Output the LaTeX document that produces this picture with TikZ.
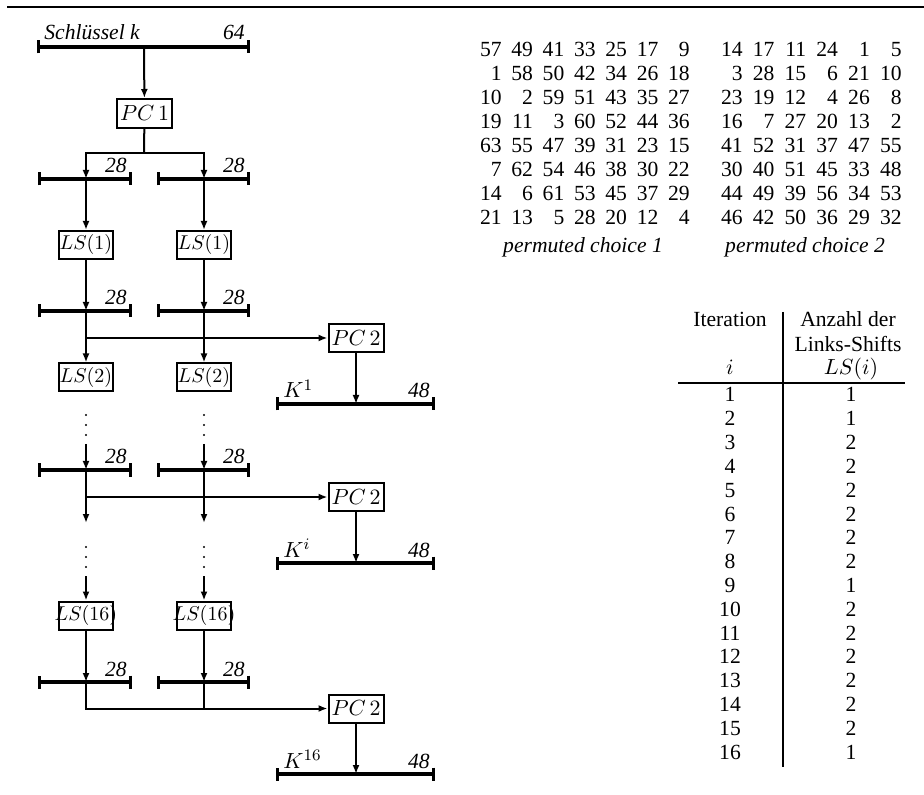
\documentclass[tikz,border=0pt]{standalone}
\usepackage{fontspec}
\setmainfont{Liberation Serif}
\usetikzlibrary{arrows.meta}

\begin{document}
\fontsize{10.8}{13}\selectfont
\begin{tikzpicture}[x=0.5pt,y=-0.5pt,
  box/.style={draw,line width=1pt,minimum width=27pt,minimum height=14pt,inner sep=0.3pt},
  lsbox/.style={box,font=\fontsize{9.6}{11}\selectfont},
  bus/.style={line width=1.7pt,{Bar[width=6.5pt]}-{Bar[width=6.5pt]}},
  wire/.style={line width=1pt},
  arr/.style={wire,-{Latex[length=4.5pt,width=3.5pt]}},
  num/.style={anchor=base east,inner sep=0pt},
  lbl/.style={anchor=base east,inner sep=0pt,font=\itshape}]
  \useasboundingbox (0,0) rectangle (924,795);
  \draw[line width=1.1pt] (7,7) -- (924,7); % rule at top

  % the buses: name / left end / right end / tap / height
  \foreach \n/\xa/\xb/\xt/\y in {key/37/250/144/47, aL/38/132/86/179, aR/157/250/204/179,
      bL/38/132/86/311, bR/157/250/204/311, cL/38/132/86/470, cR/157/250/204/470,
      dL/38/132/86/682, dR/157/250/204/682, k1/276/435/356/404, ki/276/435/356/563,
      k16/276/435/356/774} {
    \coordinate (\n-w) at (\xa,\y);
    \coordinate (\n-e) at (\xb,\y);
    \coordinate (\n) at (\xt,\y);
    \draw[bus] (\n-w) -- (\n-e);
  }
  \foreach \n in {aL,aR,bL,bR,cL,cR,dL,dR} { % widths of the halves
    \node[lbl] (w\n) at ([shift={(-5,-6)}]\n-e) {28};
  }
  \foreach \n in {k1,ki,k16} {
    \node[lbl] (w\n) at ([shift={(-5,-6)}]\n-e) {48};
  }
  \node[lbl] (wkey) at ([shift={(-5,-7)}]key-e) {64};
  \node[lbl,anchor=base west] (tkey) at (44,40) {Schlüssel k};
  \node[anchor=base west,inner sep=0pt] (tk1) at (283,398) {$K^1$};
  \node[anchor=base west,inner sep=0pt] (tki) at (283,557) {$K^i$};
  \node[anchor=base west,inner sep=0pt] (tk16) at (283,768) {$K^{16}$};

  % boxes
  \node[box,minimum width=27.5pt,minimum height=14.5pt] (pc1) at (144.5,113.5) {$PC\,1$};
  \foreach \s/\x in {L/86,R/204} {
    \node[lsbox] (ls1\s) at (\x,245) {$LS(1)$};
    \node[lsbox] (ls2\s) at (\x,377.5) {$LS(2)$};
    \node[lsbox,inner sep=0pt,text width=27pt,align=center] (ls16\s) at (\x,615.5)
      {\makebox[27pt]{$LS(16)$}};
  }
  \node[box,minimum width=27.5pt] (pc2a) at (356,338) {$PC\,2$};
  \node[box,minimum width=27.5pt] (pc2b) at (356,497) {$PC\,2$};
  \node[box,minimum width=27.5pt] (pc2c) at (356,708.5) {$PC\,2$};

  % connectors
  \coordinate (split) at (144,153);
  \draw[arr] (key) -- (pc1);
  \draw[wire] (pc1) -- (split);
  \draw[arr] (split) -| (aL);
  \draw[arr] (split) -| (aR);
  \foreach \s/\x in {L/86,R/204} {
    \draw[arr] (a\s) -- (ls1\s);
    \draw[arr] (ls1\s) -- (b\s);
    \draw[arr] (b\s) -- (ls2\s);
    \coordinate (cin\s) at (\x,444);
    \coordinate (cout\s) at (\x,523);
    \coordinate (din\s) at (\x,576);
    \draw[arr] (cin\s) -- (c\s);
    \draw[arr] (c\s) -- (cout\s);
    \draw[arr] (din\s) -- (ls16\s);
    \draw[arr] (ls16\s) -- (d\s);
    \foreach \y in {415,425,435,547,557,567} { % vertical dots
      \fill (\x,\y) circle (0.6pt);
    }
  }
  \coordinate (jb) at (86,338);
  \coordinate (jc) at (86,497);
  \draw[arr] (jb) -- (pc2a.west);
  \draw[arr] (jc) -- (pc2b.west);
  \draw[arr] (dL) |- (pc2c.west);
  \draw[wire] (dR) -- (dR |- pc2c.west);
  \draw[arr] (pc2a) -- (k1);
  \draw[arr] (pc2b) -- (ki);
  \draw[arr] (pc2c) -- (k16);

  % permuted choice 1
  \foreach \row [count=\r from 0] in {{57,49,41,33,25,17,9},{1,58,50,42,34,26,18},
      {10,2,59,51,43,35,27},{19,11,3,60,52,44,36},{63,55,47,39,31,23,15},
      {7,62,54,46,38,30,22},{14,6,61,53,45,37,29},{21,13,5,28,20,12,4}} {
    \foreach \v [count=\c from 0] in \row {
      \node[num] (pa\r\c) at (502+31.35*\c,57+24*\r) {\v};
    }
  }
  % permuted choice 2
  \foreach \row [count=\r from 0] in {{14,17,11,24,1,5},{3,28,15,6,21,10},
      {23,19,12,4,26,8},{16,7,27,20,13,2},{41,52,31,37,47,55},
      {30,40,51,45,33,48},{44,49,39,56,34,53},{46,42,50,36,29,32}} {
    \foreach \v [count=\c from 0] in \row {
      \node[num] (pb\r\c) at (743+31.8*\c,57+24*\r) {\v};
    }
  }
  \node[anchor=base,inner sep=0pt,font=\itshape] (cap1) at (583,253) {permuted choice 1};
  \node[anchor=base,inner sep=0pt,font=\itshape] (cap2) at (805,253) {permuted choice 2};

  % table of the shifts
  \draw[line width=1pt] (783,312) -- (783,767);
  \draw[line width=1.3pt] (678,383) -- (905,383);
  \node[anchor=base,inner sep=0pt] (hit) at (730,327) {Iteration};
  \node[anchor=base,inner sep=0pt] (hanz) at (848,327) {Anzahl der};
  \node[anchor=base,inner sep=0pt] (hls) at (848,352) {Links-Shifts};
  \node[anchor=base,inner sep=0pt] (hi) at (730,375) {$i$};
  \node[anchor=base,inner sep=0pt] (hlsi) at (851,375) {$LS(i)$};
  \foreach \v [count=\i] in {1,1,2,2,2,2,2,2,1,2,2,2,2,2,2,1} {
    \node[anchor=base,inner sep=0pt] (it\i) at (730,378.2+23.8*\i) {\i};
    \node[anchor=base,inner sep=0pt] (sh\i) at (851,378.2+23.8*\i) {\v};
  }
\end{tikzpicture}
\end{document}
